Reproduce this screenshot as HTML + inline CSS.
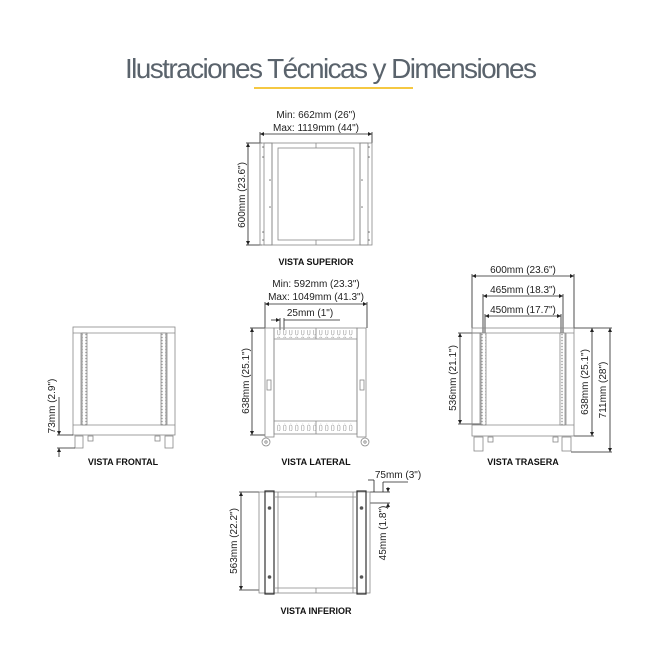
<!DOCTYPE html>
<html><head><meta charset="utf-8"><style>
html,body{margin:0;padding:0;background:#fff;}
svg{display:block;font-family:"Liberation Sans",sans-serif;}
.l{fill:none;stroke:#888;stroke-width:0.8}
.d{fill:none;stroke:#222;stroke-width:0.8}
.t{font-size:10px;fill:#222}
.b{font-size:9px;font-weight:bold;fill:#111}
</style></head><body>
<svg width="662" height="662" viewBox="0 0 662 662" xmlns="http://www.w3.org/2000/svg">
<defs>
<marker id="a" viewBox="0 0 6 6" refX="6" refY="3" markerWidth="5" markerHeight="5" orient="auto-start-reverse"><path d="M0,0L6,3L0,6z" fill="#222"/></marker>
<pattern id="dots" width="4" height="3" patternUnits="userSpaceOnUse"><rect width="4" height="3" fill="#fff"/><rect x="1.3" y="0.8" width="1.4" height="1.4" fill="#999"/></pattern>
<pattern id="vent" width="6" height="8" patternUnits="userSpaceOnUse"><rect x="1.5" y="1" width="2.5" height="6" rx="1.2" fill="none" stroke="#888" stroke-width="0.5"/></pattern>
</defs>
<text x="331" y="78" text-anchor="middle" font-size="28" fill="#5a636c" style="font-weight:normal" textLength="412">Ilustraciones Técnicas y Dimensiones</text>
<rect x="254" y="87" width="159" height="2" fill="#f5c842"/>

<!-- TOP VIEW -->
<text x="316" y="118" class="t" text-anchor="middle">Min: 662mm (26")</text>
<text x="316" y="131" class="t" text-anchor="middle">Max: 1119mm (44")</text>
<line x1="260" y1="134" x2="372" y2="134" class="d" marker-start="url(#a)" marker-end="url(#a)"/>
<line x1="260" y1="132" x2="260" y2="143" class="d"/><line x1="372" y1="132" x2="372" y2="143" class="d"/>
<line x1="248" y1="143" x2="248" y2="245" class="d" marker-start="url(#a)" marker-end="url(#a)"/>
<line x1="246" y1="143" x2="262" y2="143" class="d"/><line x1="246" y1="245" x2="262" y2="245" class="d"/>
<text transform="translate(245,195) rotate(-90)" class="t" text-anchor="middle">600mm (23.6")</text>
<rect x="260" y="143" width="12" height="102" class="l"/>
<rect x="264" y="143" width="8" height="102" class="l"/>
<rect x="360" y="143" width="12" height="102" class="l"/>
<rect x="360" y="143" width="8" height="102" class="l"/>
<rect x="272" y="143" width="88" height="102" class="l"/>
<rect x="278" y="148" width="76" height="92" class="l"/>
<line x1="316" y1="143" x2="316" y2="148" class="l"/><line x1="316" y1="240" x2="316" y2="245" class="l"/>
<g fill="#777"><circle cx="263" cy="147" r="0.8"/><circle cx="263" cy="157" r="0.8"/><circle cx="263" cy="232" r="0.8"/><circle cx="263" cy="240" r="0.8"/><circle cx="270" cy="180" r="0.8"/><circle cx="270" cy="207" r="0.8"/><circle cx="369" cy="147" r="0.8"/><circle cx="369" cy="157" r="0.8"/><circle cx="369" cy="232" r="0.8"/><circle cx="369" cy="240" r="0.8"/><circle cx="362" cy="180" r="0.8"/><circle cx="362" cy="207" r="0.8"/></g>
<text x="316" y="265" class="b" text-anchor="middle">VISTA SUPERIOR</text>

<!-- LATERAL -->
<text x="316" y="287" class="t" text-anchor="middle">Min: 592mm (23.3")</text>
<text x="316" y="300" class="t" text-anchor="middle">Max: 1049mm (41.3")</text>
<line x1="265" y1="304" x2="367" y2="304" class="d" marker-start="url(#a)" marker-end="url(#a)"/>
<line x1="265" y1="302" x2="265" y2="328" class="d"/><line x1="367" y1="302" x2="367" y2="328" class="d"/>
<text x="310" y="316" class="t" text-anchor="middle">25mm (1")</text>
<line x1="271" y1="320" x2="280" y2="320" class="d" marker-end="url(#a)"/>
<line x1="284" y1="320" x2="340" y2="320" class="d"/>
<line x1="280" y1="318" x2="280" y2="330" class="d"/><line x1="284" y1="318" x2="284" y2="330" class="d"/>
<line x1="252" y1="328" x2="252" y2="435" class="d" marker-start="url(#a)" marker-end="url(#a)"/>
<line x1="250" y1="328" x2="265" y2="328" class="d"/><line x1="250" y1="435" x2="265" y2="435" class="d"/>
<text transform="translate(249,381) rotate(-90)" class="t" text-anchor="middle">638mm (25.1")</text>
<rect x="265" y="328" width="9" height="109" class="l"/>
<rect x="357" y="328" width="9" height="109" class="l"/>
<rect x="274" y="328" width="83" height="106" class="l"/>
<rect x="276" y="330" width="79" height="8" fill="url(#vent)"/>
<rect x="276" y="423" width="79" height="8" fill="url(#vent)"/>
<line x1="274" y1="339" x2="357" y2="339" class="l"/><line x1="274" y1="421" x2="357" y2="421" class="l"/>
<line x1="316" y1="328" x2="316" y2="339" class="l"/><line x1="316" y1="421" x2="316" y2="434" class="l"/>
<rect x="267" y="380" width="4" height="10" class="l"/><rect x="360" y="380" width="4" height="10" class="l"/>
<circle cx="266" cy="442" r="4" class="l"/><circle cx="266" cy="442" r="1.2" class="l"/>
<circle cx="365" cy="442" r="4" class="l"/><circle cx="365" cy="442" r="1.2" class="l"/>
<text x="316" y="465" class="b" text-anchor="middle">VISTA LATERAL</text>

<!-- FRONT -->
<rect x="73" y="327" width="102" height="108" class="l"/>
<line x1="73" y1="333" x2="175" y2="333" class="l"/>
<line x1="73" y1="425" x2="175" y2="425" class="l"/>
<line x1="81" y1="333" x2="81" y2="425" class="l"/><line x1="167" y1="333" x2="167" y2="425" class="l"/>
<rect x="82" y="333" width="5" height="92" style="fill:url(#dots);stroke:#888;stroke-width:0.8"/>
<rect x="161" y="333" width="5" height="92" style="fill:url(#dots);stroke:#888;stroke-width:0.8"/>
<rect x="75" y="436" width="8" height="12" class="l"/><rect x="165" y="436" width="8" height="12" class="l"/>
<rect x="88" y="436" width="5" height="5" class="l"/><rect x="155" y="436" width="5" height="5" class="l"/>
<line x1="59" y1="397" x2="59" y2="435" class="d" marker-end="url(#a)"/>
<line x1="57" y1="435" x2="73" y2="435" class="d"/>
<line x1="59" y1="457" x2="59" y2="448" class="d" marker-end="url(#a)"/>
<line x1="57" y1="448" x2="75" y2="448" class="d"/>
<text transform="translate(55,406) rotate(-90)" class="t" text-anchor="middle">73mm (2.9")</text>
<text x="123" y="465" class="b" text-anchor="middle">VISTA FRONTAL</text>

<!-- REAR -->
<text x="523" y="273" class="t" text-anchor="middle">600mm (23.6")</text>
<line x1="472" y1="276" x2="574" y2="276" class="d" marker-start="url(#a)" marker-end="url(#a)"/>
<line x1="472" y1="274" x2="472" y2="328" class="d"/><line x1="574" y1="274" x2="574" y2="328" class="d"/>
<text x="523" y="293" class="t" text-anchor="middle">465mm (18.3")</text>
<line x1="483" y1="296" x2="563" y2="296" class="d" marker-start="url(#a)" marker-end="url(#a)"/>
<line x1="483" y1="294" x2="483" y2="333" class="d"/><line x1="563" y1="294" x2="563" y2="333" class="d"/>
<text x="523" y="313" class="t" text-anchor="middle">450mm (17.7")</text>
<line x1="485" y1="316" x2="561" y2="316" class="d" marker-start="url(#a)" marker-end="url(#a)"/>
<line x1="485" y1="314" x2="485" y2="333" class="d"/><line x1="561" y1="314" x2="561" y2="333" class="d"/>
<line x1="460" y1="333" x2="460" y2="424" class="d" marker-start="url(#a)" marker-end="url(#a)"/>
<line x1="458" y1="333" x2="482" y2="333" class="d"/><line x1="458" y1="424" x2="482" y2="424" class="d"/>
<text transform="translate(456,378) rotate(-90)" class="t" text-anchor="middle">536mm (21.1")</text>
<line x1="592" y1="328" x2="592" y2="436" class="d" marker-start="url(#a)" marker-end="url(#a)"/>
<line x1="574" y1="328" x2="612" y2="328" class="d"/><line x1="574" y1="436" x2="594" y2="436" class="d"/>
<text transform="translate(588,382) rotate(-90)" class="t" text-anchor="middle">638mm (25.1")</text>
<line x1="610" y1="328" x2="610" y2="452" class="d" marker-start="url(#a)" marker-end="url(#a)"/>
<line x1="571" y1="452" x2="612" y2="452" class="d"/>
<text transform="translate(606,390) rotate(-90)" class="t" text-anchor="middle">711mm (28")</text>
<rect x="472" y="328" width="102" height="108" class="l"/>
<line x1="472" y1="333" x2="574" y2="333" class="l"/>
<line x1="472" y1="425" x2="574" y2="425" class="l"/>
<line x1="480" y1="333" x2="480" y2="425" class="l"/><line x1="566" y1="333" x2="566" y2="425" class="l"/>
<rect x="481" y="333" width="5" height="92" style="fill:url(#dots);stroke:#888;stroke-width:0.8"/>
<rect x="560" y="333" width="5" height="92" style="fill:url(#dots);stroke:#888;stroke-width:0.8"/>
<rect x="474" y="437" width="9" height="14" class="l"/><rect x="562" y="437" width="9" height="14" class="l"/>
<rect x="488" y="437" width="5" height="5" class="l"/><rect x="553" y="437" width="5" height="5" class="l"/>
<text x="523" y="465" class="b" text-anchor="middle">VISTA TRASERA</text>

<!-- BOTTOM -->
<text x="398" y="478" class="t" text-anchor="middle">75mm (3")</text>
<line x1="368" y1="480" x2="374" y2="480" class="d"/><line x1="374" y1="480" x2="374" y2="492" class="d"/>
<line x1="408" y1="482" x2="383" y2="482" class="d"/><line x1="383" y1="482" x2="383" y2="492" class="d"/>
<line x1="388" y1="487" x2="388" y2="492" class="d" marker-end="url(#a)"/>
<line x1="370" y1="492" x2="390" y2="492" class="d"/>
<line x1="370" y1="503" x2="390" y2="503" class="d"/>
<line x1="388" y1="508" x2="388" y2="503" class="d" marker-end="url(#a)"/>
<text transform="translate(386,533) rotate(-90)" class="t" text-anchor="middle">45mm (1.8")</text>
<line x1="241" y1="492" x2="241" y2="590" class="d" marker-start="url(#a)" marker-end="url(#a)"/>
<line x1="239" y1="492" x2="259" y2="492" class="d"/><line x1="239" y1="590" x2="259" y2="590" class="d"/>
<text transform="translate(237,541) rotate(-90)" class="t" text-anchor="middle">563mm (22.2")</text>
<rect x="259" y="492" width="111" height="101" class="l"/>
<rect x="265" y="491" width="9" height="103" fill="none" stroke="#333" stroke-width="1.2"/>
<rect x="357" y="491" width="9" height="103" fill="none" stroke="#333" stroke-width="1.2"/>
<line x1="278" y1="492" x2="278" y2="593" class="l"/><line x1="353" y1="492" x2="353" y2="593" class="l"/>
<line x1="274" y1="497" x2="357" y2="497" class="l"/><line x1="274" y1="588" x2="357" y2="588" class="l"/>
<line x1="316" y1="492" x2="316" y2="497" class="l"/><line x1="316" y1="588" x2="316" y2="593" class="l"/>
<g fill="#555"><circle cx="269.5" cy="508" r="1.8"/><circle cx="269.5" cy="577" r="1.8"/><circle cx="361.5" cy="508" r="1.8"/><circle cx="361.5" cy="577" r="1.8"/></g>
<text x="316" y="614" class="b" text-anchor="middle">VISTA INFERIOR</text>
</svg>
</body></html>
